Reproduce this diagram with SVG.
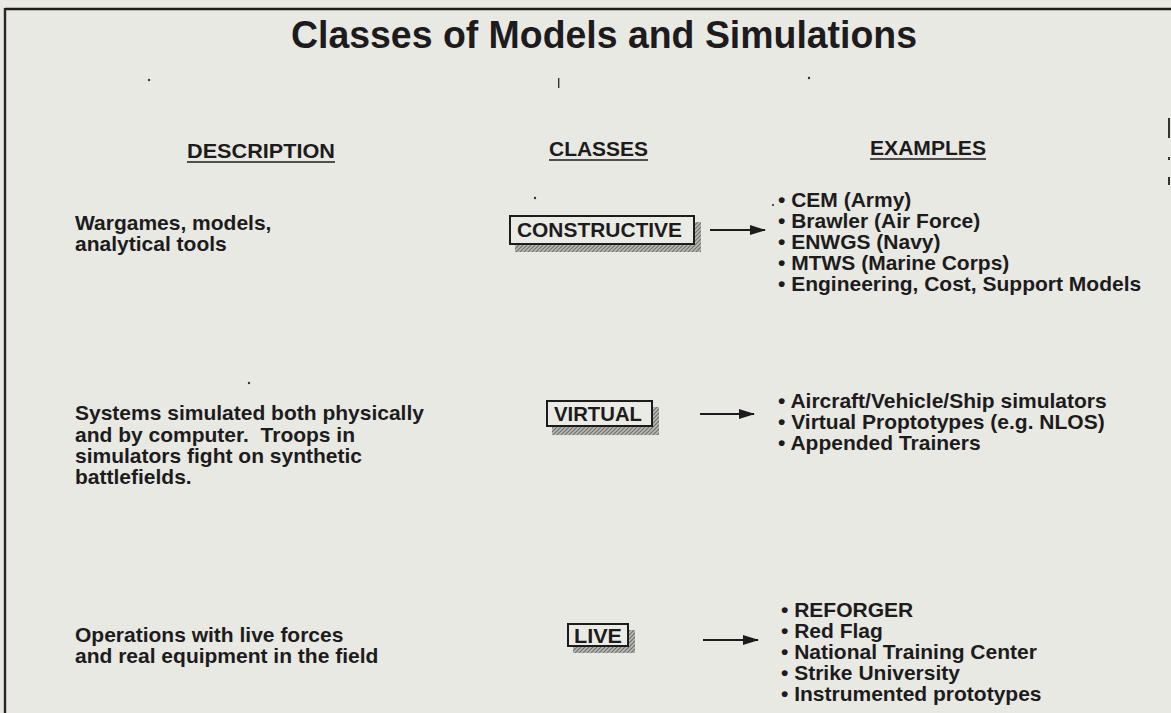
<svg xmlns="http://www.w3.org/2000/svg" width="1171" height="713" viewBox="0 0 1171 713">
  <style>
    text { font-family: "Liberation Sans", Arial, sans-serif; font-weight: bold; fill: #1d1b1c; }
    .title { font-size: 38px; }
    .head { font-size: 21px; }
    .desc { font-size: 21px; }
    .ex { font-size: 21px; }
    .cls { font-size: 21px; }
    .frame { fill: #ebebe6; stroke: #1d1b1c; stroke-width: 2; }
    .shadow { fill: url(#hatch); }
    .rule { stroke: #1d1b1c; stroke-width: 1.6; }
    .arrow { stroke: #1d1b1c; stroke-width: 2; fill: none; marker-end: url(#head); }
    .speck { fill: #333; }
  </style>
  <defs>
    <pattern id="hatch" width="4" height="4" patternUnits="userSpaceOnUse">
      <rect width="4" height="4" fill="#b9b9b5"/>
      <path d="M0,4 L4,0 M-1,1 L1,-1 M3,5 L5,3" stroke="#6e6e6b" stroke-width="1.2"/>
    </pattern>
    <marker id="head" viewBox="0 0 16 10" refX="15" refY="5" markerWidth="16" markerHeight="10" markerUnits="userSpaceOnUse" orient="auto">
      <path d="M0,0 L16,5 L0,10 Z" fill="#1d1b1c"/>
    </marker>
  </defs>

  <!-- page -->
  <rect width="1171" height="713" fill="#e9e9e4"/>
  <line x1="5" y1="9" x2="1171" y2="9" stroke="#1d1b1c" stroke-width="2.4"/>
  <line x1="5" y1="8" x2="5" y2="713" stroke="#2a2527" stroke-width="2.4"/>

  <!-- stray marks -->
  <g id="specks">
    <circle class="speck" cx="149" cy="80" r="1.2"/>
    <rect class="speck" x="558" y="78" width="1.4" height="10"/>
    <circle class="speck" cx="809" cy="78" r="1.2"/>
    <circle class="speck" cx="535" cy="198" r="1.2"/>
    <circle class="speck" cx="249" cy="383" r="1.2"/>
    <circle class="speck" cx="773" cy="205" r="1.1"/>
    <rect class="speck" x="1168" y="118" width="2" height="20" fill="#999"/>
    <rect class="speck" x="1168" y="157" width="2" height="3" fill="#999"/>
    <rect class="speck" x="1168" y="177" width="2" height="8" fill="#999"/>
  </g>

  <text class="title" x="291" y="48" textLength="626" lengthAdjust="spacingAndGlyphs">Classes of Models and Simulations</text>

  <!-- column headings -->
  <g id="headings">
    <text class="head" x="187" y="158" textLength="148" lengthAdjust="spacingAndGlyphs">DESCRIPTION</text>
    <line class="rule" x1="187" y1="162" x2="335" y2="162"/>
    <text class="head" x="549" y="156" textLength="99" lengthAdjust="spacingAndGlyphs">CLASSES</text>
    <line class="rule" x1="549" y1="160" x2="648" y2="160"/>
    <text class="head" x="870" y="155" textLength="116" lengthAdjust="spacingAndGlyphs">EXAMPLES</text>
    <line class="rule" x1="870" y1="159" x2="986" y2="159"/>
  </g>

  <!-- descriptions -->
  <g id="desc-constructive">
    <text class="desc" x="75" y="230">Wargames, models,</text>
    <text class="desc" x="75" y="251">analytical tools</text>
  </g>
  <g id="desc-virtual">
    <text class="desc" x="75" y="420">Systems simulated both physically</text>
    <text class="desc" x="75" y="442" xml:space="preserve">and by computer.  Troops in</text>
    <text class="desc" x="75" y="463">simulators fight on synthetic</text>
    <text class="desc" x="75" y="484">battlefields.</text>
  </g>
  <g id="desc-live">
    <text class="desc" x="75" y="642">Operations with live forces</text>
    <text class="desc" x="75" y="663">and real equipment in the field</text>
  </g>

  <!-- class boxes -->
  <g id="class-constructive">
    <rect class="shadow" x="515" y="222" width="186" height="30"/>
    <rect class="frame" x="510" y="216" width="184" height="28"/>
    <text class="cls" x="517" y="237" textLength="165" lengthAdjust="spacingAndGlyphs">CONSTRUCTIVE</text>
  </g>
  <g id="class-virtual">
    <rect class="shadow" x="552" y="407" width="107" height="28"/>
    <rect class="frame" x="547" y="401" width="105" height="25"/>
    <text class="cls" x="554" y="421" textLength="88" lengthAdjust="spacingAndGlyphs">VIRTUAL</text>
  </g>
  <g id="class-live">
    <rect class="shadow" x="573" y="630" width="62" height="23"/>
    <rect class="frame" x="568" y="624" width="60" height="22"/>
    <text class="cls" x="574" y="643" textLength="48" lengthAdjust="spacingAndGlyphs">LIVE</text>
  </g>

  <!-- connectors -->
  <g id="connectors">
    <line class="arrow" x1="710" y1="230" x2="765" y2="230"/>
    <line class="arrow" x1="700" y1="414" x2="754" y2="414"/>
    <line class="arrow" x1="703" y1="640" x2="758" y2="640"/>
  </g>

  <!-- examples -->
  <g id="ex-constructive">
    <text class="ex" x="778" y="207">• CEM (Army)</text>
    <text class="ex" x="778" y="228">• Brawler (Air Force)</text>
    <text class="ex" x="778" y="249">• ENWGS (Navy)</text>
    <text class="ex" x="778" y="270">• MTWS (Marine Corps)</text>
    <text class="ex" x="778" y="291">• Engineering, Cost, Support Models</text>
  </g>
  <g id="ex-virtual">
    <text class="ex" x="778" y="408">• Aircraft/Vehicle/Ship simulators</text>
    <text class="ex" x="778" y="429">• Virtual Proptotypes (e.g. NLOS)</text>
    <text class="ex" x="778" y="450">• Appended Trainers</text>
  </g>
  <g id="ex-live">
    <text class="ex" x="781" y="617">• REFORGER</text>
    <text class="ex" x="781" y="638">• Red Flag</text>
    <text class="ex" x="781" y="659">• National Training Center</text>
    <text class="ex" x="781" y="680">• Strike University</text>
    <text class="ex" x="781" y="701">• Instrumented prototypes</text>
  </g>
</svg>
